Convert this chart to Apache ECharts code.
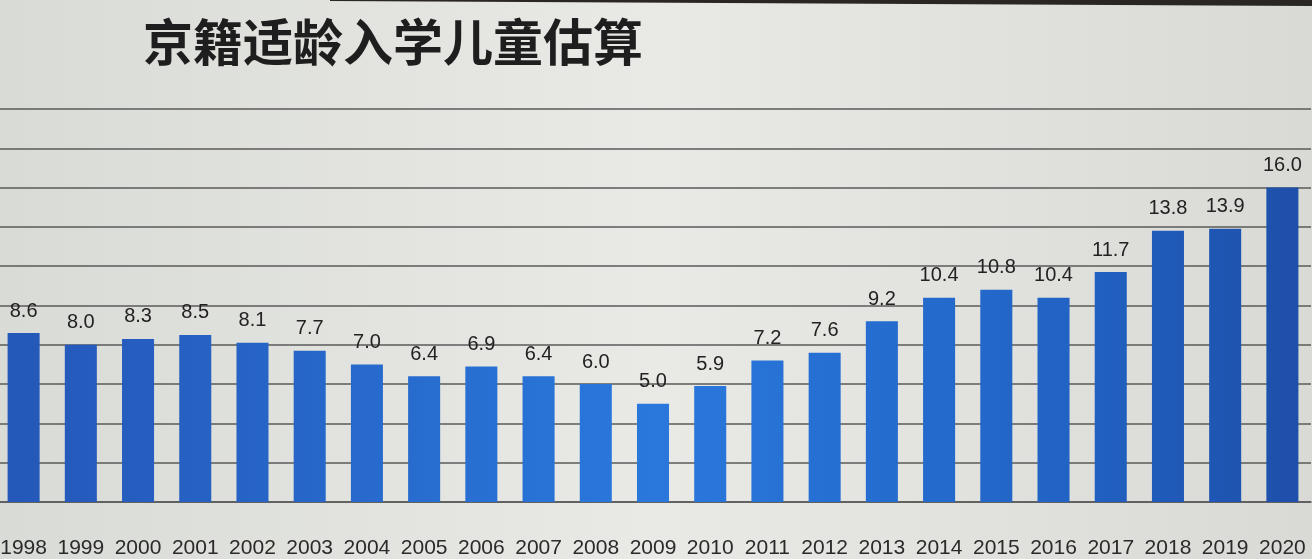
<!DOCTYPE html>
<html><head><meta charset="utf-8">
<script src="https://cdn.jsdelivr.net/npm/echarts@6/dist/echarts.min.js"></script>
<style>html,body{margin:0;padding:0;}#c{width:1312px;height:559px;}</style>
</head><body><div id="c"></div>
<script>
const titleText = '京籍适龄入学儿童估算';
const years = ['1998','1999','2000','2001','2002','2003','2004','2005','2006','2007','2008','2009','2010','2011','2012','2013','2014','2015','2016','2017','2018','2019','2020'];
const values = [8.6, 8.0, 8.3, 8.5, 8.1, 7.7, 7.0, 6.4, 6.9, 6.4, 6.0, 5.0, 5.9, 7.2, 7.6, 9.2, 10.4, 10.8, 10.4, 11.7, 13.8, 13.9, 16.0];
const yMin = 0, yMax = 20, yStep = 2;

const chart = echarts.init(document.getElementById('c'));
const font = "'Liberation Sans', Arial, sans-serif";
chart.setOption({
  backgroundColor: new echarts.graphic.LinearGradient(0, 0, 1, 0, [
    {offset: 0, color: '#d9dbd6'},
    {offset: 0.5, color: '#e9eae6'},
    {offset: 1, color: '#d9dad5'}
  ]),
  animation: false,
  title: {
    text: titleText, left: 138, top: 12,
    textStyle: {fontFamily: "'Noto Sans CJK SC'", fontSize: 50, fontWeight: 'bold', color: '#1e1e1e'}
  },
  graphic: [{
    type: 'polygon', shape: {points: [[330,0],[1312,0],[1312,6],[330,1]]},
    style: {fill: '#2a2622'}, z: 100
  }],
  grid: {left: -5, right: 1, top: 109, bottom: 57, containLabel: false, outerBoundsMode: 'none'},
  xAxis: {
    type: 'category', data: years,
    axisLine: {show: true, lineStyle: {color: '#5a5a5a', width: 1.5}},
    axisTick: {show: false},
    axisLabel: {margin: 36, fontFamily: font, fontSize: 21, color: '#2a2a2a', interval: 0}
  },
  yAxis: {
    type: 'value', min: yMin, max: yMax, interval: yStep,
    axisLabel: {show: false}, axisLine: {show: false}, axisTick: {show: false},
    splitLine: {lineStyle: {color: '#5a5a5a', width: 1.5}}
  },
  series: [{
    type: 'bar', data: values, barWidth: '56%',
    itemStyle: {
      color: new echarts.graphic.LinearGradient(0, 0, 1312, 0, [
        {offset: 0, color: '#2457b8'},
        {offset: 0.5, color: '#2a78dc'},
        {offset: 0.8, color: '#2264c6'},
        {offset: 1, color: '#1e4ea8'}
      ], true)
    },
    label: {
      show: true, position: 'top', distance: 12,
      formatter: p => p.value.toFixed(1),
      fontFamily: font, fontSize: 20, color: '#222'
    }
  }]
});
</script></body></html>
